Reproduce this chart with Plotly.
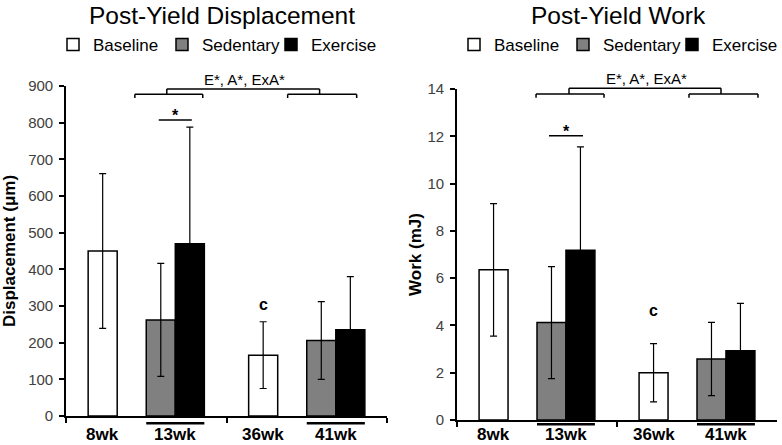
import plotly.graph_objects as go

# ---------------- data ----------------
groups = ["Young", "Old"]
series_names = ["Baseline", "Sedentary", "Exercise"]
series_colors = ["#ffffff", "#808080", "#000000"]
tick_labels = ["8wk", "13wk", "36wk", "41wk"]

disp_baseline = [450, 166]
disp_baseline_sd = [211, 91]
disp_sedentary = [262, 206]
disp_sedentary_sd = [154, 106]
disp_exercise = [470, 235]
disp_exercise_sd = [318, 145]

work_baseline = [6.35, 2.0]
work_baseline_sd = [2.8, 1.23]
work_sedentary = [4.12, 2.58]
work_sedentary_sd = [2.37, 1.55]
work_exercise = [7.18, 2.93]
work_exercise_sd = [4.37, 2.0]

# ---------------- layout constants ----------------
W, H = 782, 445
FONT = "Liberation Sans, Arial, sans-serif"
BARGAP = 0.276
G = 1 - BARGAP
SLOT = G / 4
SLOT_INDEX = [0, 2, 3]  # baseline, (gap), sedentary, exercise


def off(i):
    return -G / 2 + i * SLOT


def center(i):
    return off(i) + SLOT / 2


fig = go.Figure()


def add_panel(xa, ya, legend, vals, sds):
    for name, color, idx, v, sd in zip(series_names, series_colors, SLOT_INDEX, vals, sds):
        fig.add_trace(go.Bar(
            x=groups, y=v, name=name,
            marker=dict(color=color, line=dict(color="black", width=1.5)),
            width=SLOT, offset=off(idx),
            error_y=dict(type="data", array=sd, visible=True, color="black",
                         thickness=1.2, width=3.5),
            xaxis=xa, yaxis=ya, legend=legend,
        ))


add_panel("x", "y", "legend",
          [disp_baseline, disp_sedentary, disp_exercise],
          [disp_baseline_sd, disp_sedentary_sd, disp_exercise_sd])
add_panel("x2", "y2", "legend2",
          [work_baseline, work_sedentary, work_exercise],
          [work_baseline_sd, work_sedentary_sd, work_exercise_sd])

xcommon = dict(type="category", range=[-0.5, 1.5], showline=True, linecolor="black",
               linewidth=1.6, ticks="outside", tickson="boundaries", ticklen=5,
               tickwidth=1.5, tickcolor="black", showticklabels=False, showgrid=False,
               zeroline=False, fixedrange=True, automargin=False)
ycommon = dict(showline=True, linecolor="black", linewidth=1.6, ticks="outside",
               ticklen=5, tickwidth=1.5, tickcolor="black", showgrid=False, zeroline=False,
               tickfont=dict(family=FONT, size=15, color="#404040"),
               ticklabelstandoff=3, automargin=False)

legcommon = dict(orientation="h", yanchor="middle", xanchor="left",
                 font=dict(family=FONT, size=17, color="black"),
                 bgcolor="rgba(0,0,0,0)", traceorder="normal",
                 entrywidth=64, entrywidthmode="pixels")

fig.update_layout(
    width=W, height=H, margin=dict(l=0, r=0, t=0, b=0, autoexpand=False),
    paper_bgcolor="white", plot_bgcolor="white",
    barmode="overlay",
    font=dict(family=FONT, color="black"),
    xaxis=dict(domain=[66 / W, 387 / W], anchor="y", **xcommon),
    xaxis2=dict(domain=[457 / W, 777 / W], anchor="y2", **xcommon),
    yaxis=dict(domain=[(H - 416) / H, (H - 86) / H], anchor="x", range=[0, 900], dtick=100,
               title=dict(text="Displacement (μm)", standoff=10,
                          font=dict(family=FONT, size=17, color="black", weight="bold")),
               **ycommon),
    yaxis2=dict(domain=[(H - 420) / H, (H - 89) / H], anchor="x2", range=[0, 14], dtick=2,
                title=dict(text="Work (mJ)", standoff=2,
                           font=dict(family=FONT, size=17, color="black", weight="bold")),
                **ycommon),
    legend=dict(x=53 / W, y=1 - 45 / H, **legcommon),
    legend2=dict(x=454 / W, y=1 - 45 / H, **legcommon),
)

annotations = []
shapes = []

# panel titles
for txt, cx in [("Post-Yield Displacement", 222), ("Post-Yield Work", 618)]:
    annotations.append(dict(text=txt, x=cx / W, y=1, xref="paper", yref="paper",
                            showarrow=False, xanchor="center", yanchor="top",
                            font=dict(family=FONT, size=24.5, color="black")))

panels = [
    dict(xr="x", yr="y", star_line=807, c_y=305, under_y=423.3,
         br_line=94.3, br_tick=98, br_top=89,
         A=(-0.071, 0.352, 0.128), B=(0.881, 1.311, 1.080), txt_x=0.615,
         star=(0.078, 0.284)),
    dict(xr="x2", yr="y2", star_line=12.02, c_y=4.62, under_y=424.3,
         br_line=94, br_tick=97.7, br_top=88.3,
         A=(-0.006, 0.419, 0.2), B=(0.95, 1.381, 1.15), txt_x=0.684,
         star=(0.075, 0.2875)),
]

LINE = dict(color="black", width=1.5)
for p in panels:
    xr, yr = p["xr"], p["yr"]
    # x tick labels
    label_pos = [center(0), (off(2) + off(3) + SLOT) / 2,
                 1 + center(0), 1 + (off(2) + off(3) + SLOT) / 2]
    for lab, xp in zip(tick_labels, label_pos):
        annotations.append(dict(text=lab, x=xp, y=0, xref=xr, yref="paper",
                                showarrow=False, xanchor="center", yanchor="bottom",
                                borderpad=0,
                                font=dict(family=FONT, size=17, color="black", weight="bold")))
    # underlines for treatment groups
    for g in [0, 1]:
        shapes.append(dict(type="line", xref=xr, yref="paper",
                           x0=g + off(2), x1=g + off(3) + SLOT,
                           y0=1 - p["under_y"] / H, y1=1 - p["under_y"] / H,
                           line=dict(color="black", width=2.5)))
    # brackets
    yl = 1 - p["br_line"] / H
    yt = 1 - p["br_tick"] / H
    ytop = 1 - p["br_top"] / H
    for (a, b, m) in [p["A"], p["B"]]:
        shapes.append(dict(type="line", xref=xr, yref="paper", x0=a, x1=b, y0=yl, y1=yl, line=LINE))
        shapes.append(dict(type="line", xref=xr, yref="paper", x0=a, x1=a, y0=yl, y1=yt, line=LINE))
        shapes.append(dict(type="line", xref=xr, yref="paper", x0=b, x1=b, y0=yl, y1=yt, line=LINE))
    ma, mb = p["A"][2], p["B"][2]
    shapes.append(dict(type="line", xref=xr, yref="paper", x0=ma, x1=ma, y0=yl, y1=ytop, line=LINE))
    shapes.append(dict(type="line", xref=xr, yref="paper", x0=ma, x1=mb, y0=ytop, y1=ytop, line=LINE))
    shapes.append(dict(type="line", xref=xr, yref="paper", x0=mb, x1=mb, y0=ytop, y1=yl, line=LINE))
    annotations.append(dict(text="E*, A*, ExA*", x=p["txt_x"], y=ytop, xref=xr, yref="paper",
                            showarrow=False, xanchor="center", yanchor="bottom", yshift=-1,
                            font=dict(family=FONT, size=15, color="black")))
    # significance star between 13wk sedentary and exercise
    s0, s1 = p["star"]
    shapes.append(dict(type="line", xref=xr, yref=yr, x0=s0, x1=s1,
                       y0=p["star_line"], y1=p["star_line"], line=LINE))
    annotations.append(dict(text="*", x=(s0 + s1) / 2, y=p["star_line"], xref=xr, yref=yr,
                            showarrow=False, xanchor="center", yanchor="bottom", yshift=-6,
                            font=dict(family=FONT, size=16, color="black", weight="bold")))
    # 'c' above 36wk baseline
    annotations.append(dict(text="c", x=1 + center(0), y=p["c_y"], xref=xr, yref=yr,
                            showarrow=False, xanchor="center", yanchor="middle",
                            font=dict(family=FONT, size=16, color="black", weight="bold")))

fig.update_layout(annotations=annotations, shapes=shapes)

fig.write_html("out.html", config={"displayModeBar": False},
               post_script="document.body.style.margin='0';")
